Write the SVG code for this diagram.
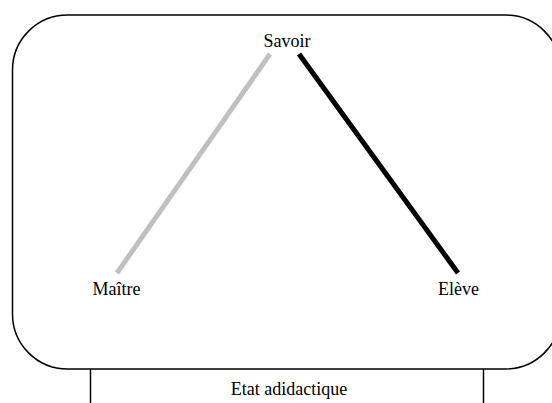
<svg xmlns="http://www.w3.org/2000/svg" width="552" height="403" viewBox="0 0 552 403">
<style>
text{font-family:"Liberation Serif","Times New Roman",serif;font-size:18px;fill:#000;text-anchor:middle}
.frame{fill:none;stroke:#000;stroke-width:1.5}
.tick{stroke:#000;stroke-width:1.5}
</style>
<rect width="552" height="403" fill="#fff"/>
<g id="frame">
<rect class="frame" x="12.5" y="15" width="548" height="354" rx="55" ry="55"/>
</g>
<g id="connectors">
<line x1="270" y1="54" x2="117" y2="273" stroke="#c0c0c0" stroke-width="5"/>
<line x1="299" y1="54" x2="458" y2="273" stroke="#000" stroke-width="5"/>
</g>
<g id="savoir"><text x="287" y="47">Savoir</text></g>
<g id="maitre"><text x="116.5" y="295">Maître</text></g>
<g id="eleve"><text x="458.5" y="295">Elève</text></g>
<g id="etat">
<line class="tick" x1="90.5" y1="369" x2="90.5" y2="403"/>
<line class="tick" x1="483.5" y1="369" x2="483.5" y2="403"/>
<text x="289" y="395">Etat adidactique</text>
</g>
</svg>
